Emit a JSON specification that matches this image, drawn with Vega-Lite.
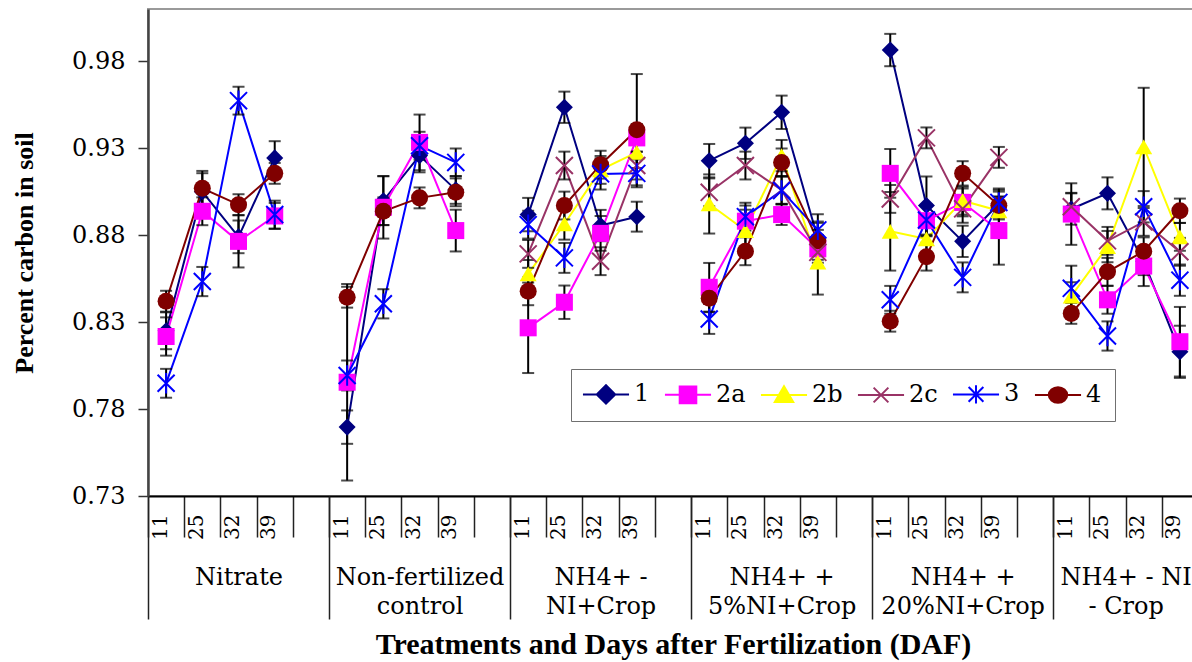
{
  "$schema": "https://vega.github.io/schema/vega-lite/v6.json",
  "width": 1050,
  "height": 487,
  "autosize": {"type": "none"},
  "padding": {"left": 148, "top": 9, "right": 0, "bottom": 166},
  "background": "white",
  "config": {
    "font": "Liberation Serif",
    "view": {"stroke": "#9a9a9a", "strokeWidth": 2},
    "axis": {"labelColor": "black", "titleColor": "black", "grid": false, "labelFont": "DejaVu Serif", "titleFont": "Liberation Serif"},
    "legend": {"labelFont": "DejaVu Serif"}
  },
  "datasets": {
    "pts": [
      {"x":"1-11","g":1,"s":"1","v":0.825,"e":0.0106},
      {"x":"1-11","g":1,"s":"2a","v":0.8217,"e":0.011},
      {"x":"1-11","g":1,"s":"3","v":0.7948,"e":0.0083},
      {"x":"1-11","g":1,"s":"4","v":0.842,"e":0.006},
      {"x":"1-25","g":1,"s":"1","v":0.905,"e":0.0106},
      {"x":"1-25","g":1,"s":"2a","v":0.8937,"e":0.008},
      {"x":"1-25","g":1,"s":"3","v":0.8533,"e":0.0084},
      {"x":"1-25","g":1,"s":"4","v":0.9069,"e":0.01},
      {"x":"1-32","g":1,"s":"1","v":0.879,"e":0.0094},
      {"x":"1-32","g":1,"s":"2a","v":0.8764,"e":0.015},
      {"x":"1-32","g":1,"s":"3","v":0.9573,"e":0.008},
      {"x":"1-32","g":1,"s":"4","v":0.8975,"e":0.006},
      {"x":"1-39","g":1,"s":"1","v":0.9244,"e":0.0096},
      {"x":"1-39","g":1,"s":"2a","v":0.891,"e":0.0075},
      {"x":"1-39","g":1,"s":"3","v":0.8918,"e":0.008},
      {"x":"1-39","g":1,"s":"4","v":0.9155,"e":0.006},

      {"x":"2-11","g":2,"s":"1","v":0.7696,"e":0.0096},
      {"x":"2-11","g":2,"s":"2a","v":0.7954,"e":0.0565},
      {"x":"2-11","g":2,"s":"3","v":0.7993,"e":0.0086},
      {"x":"2-11","g":2,"s":"4","v":0.8443,"e":0.006},
      {"x":"2-25","g":2,"s":"1","v":0.8998,"e":0.014},
      {"x":"2-25","g":2,"s":"2a","v":0.896,"e":0.018},
      {"x":"2-25","g":2,"s":"3","v":0.8405,"e":0.0084},
      {"x":"2-25","g":2,"s":"4","v":0.8937,"e":0.008},
      {"x":"2-32","g":2,"s":"1","v":0.9257,"e":0.0096},
      {"x":"2-32","g":2,"s":"2a","v":0.9333,"e":0.016},
      {"x":"2-32","g":2,"s":"3","v":0.9314,"e":0.008},
      {"x":"2-32","g":2,"s":"4","v":0.9014,"e":0.006},
      {"x":"2-39","g":2,"s":"1","v":0.906,"e":0.008},
      {"x":"2-39","g":2,"s":"2a","v":0.8826,"e":0.012},
      {"x":"2-39","g":2,"s":"3","v":0.9218,"e":0.008},
      {"x":"2-39","g":2,"s":"4","v":0.9046,"e":0.008},

      {"x":"3-11","g":3,"s":"1","v":0.8918,"e":0.0096},
      {"x":"3-11","g":3,"s":"2a","v":0.8267,"e":0.026},
      {"x":"3-11","g":3,"s":"2b","v":0.8577,"e":0.008},
      {"x":"3-11","g":3,"s":"2c","v":0.8692,"e":0.008},
      {"x":"3-11","g":3,"s":"3","v":0.886,"e":0.008},
      {"x":"3-11","g":3,"s":"4","v":0.8477,"e":0.008},
      {"x":"3-25","g":3,"s":"1","v":0.9535,"e":0.009},
      {"x":"3-25","g":3,"s":"2a","v":0.8414,"e":0.0096},
      {"x":"3-25","g":3,"s":"2b","v":0.8864,"e":0.009},
      {"x":"3-25","g":3,"s":"2c","v":0.92,"e":0.008},
      {"x":"3-25","g":3,"s":"3","v":0.8669,"e":0.0086},
      {"x":"3-25","g":3,"s":"4","v":0.897,"e":0.008},
      {"x":"3-32","g":3,"s":"1","v":0.8855,"e":0.009},
      {"x":"3-32","g":3,"s":"2a","v":0.881,"e":0.01},
      {"x":"3-32","g":3,"s":"2b","v":0.9175,"e":0.008},
      {"x":"3-32","g":3,"s":"2c","v":0.865,"e":0.008},
      {"x":"3-32","g":3,"s":"3","v":0.9152,"e":0.009},
      {"x":"3-32","g":3,"s":"4","v":0.9205,"e":0.008},
      {"x":"3-39","g":3,"s":"1","v":0.8906,"e":0.0086},
      {"x":"3-39","g":3,"s":"2a","v":0.9359,"e":0.008},
      {"x":"3-39","g":3,"s":"2b","v":0.9276,"e":0.009},
      {"x":"3-39","g":3,"s":"2c","v":0.92,"e":0.008},
      {"x":"3-39","g":3,"s":"3","v":0.9155,"e":0.008},
      {"x":"3-39","g":3,"s":"4","v":0.9406,"e":0.032},

      {"x":"4-11","g":4,"s":"1","v":0.9228,"e":0.0096},
      {"x":"4-11","g":4,"s":"2a","v":0.85,"e":0.014},
      {"x":"4-11","g":4,"s":"2b","v":0.8979,"e":0.017},
      {"x":"4-11","g":4,"s":"2c","v":0.9046,"e":0.008},
      {"x":"4-11","g":4,"s":"3","v":0.8318,"e":0.0086},
      {"x":"4-11","g":4,"s":"4","v":0.8437,"e":0.008},
      {"x":"4-25","g":4,"s":"1","v":0.9328,"e":0.009},
      {"x":"4-25","g":4,"s":"2a","v":0.888,"e":0.009},
      {"x":"4-25","g":4,"s":"2b","v":0.8826,"e":0.012},
      {"x":"4-25","g":4,"s":"2c","v":0.92,"e":0.008},
      {"x":"4-25","g":4,"s":"3","v":0.8906,"e":0.008},
      {"x":"4-25","g":4,"s":"4","v":0.8707,"e":0.008},
      {"x":"4-32","g":4,"s":"1","v":0.9506,"e":0.0096},
      {"x":"4-32","g":4,"s":"2a","v":0.8918,"e":0.006},
      {"x":"4-32","g":4,"s":"2b","v":0.9257,"e":0.009},
      {"x":"4-32","g":4,"s":"2c","v":0.906,"e":0.008},
      {"x":"4-32","g":4,"s":"3","v":0.9056,"e":0.008},
      {"x":"4-32","g":4,"s":"4","v":0.9218,"e":0.008},
      {"x":"4-39","g":4,"s":"1","v":0.878,"e":0.009},
      {"x":"4-39","g":4,"s":"2a","v":0.8721,"e":0.008},
      {"x":"4-39","g":4,"s":"2b","v":0.8644,"e":0.0186},
      {"x":"4-39","g":4,"s":"2c","v":0.8701,"e":0.008},
      {"x":"4-39","g":4,"s":"3","v":0.883,"e":0.009},
      {"x":"4-39","g":4,"s":"4","v":0.8768,"e":0.011},

      {"x":"5-11","g":5,"s":"1","v":0.9864,"e":0.0093},
      {"x":"5-11","g":5,"s":"2a","v":0.9155,"e":0.014},
      {"x":"5-11","g":5,"s":"2b","v":0.8822,"e":0.0226},
      {"x":"5-11","g":5,"s":"2c","v":0.9008,"e":0.008},
      {"x":"5-11","g":5,"s":"3","v":0.8428,"e":0.008},
      {"x":"5-11","g":5,"s":"4","v":0.8305,"e":0.006},
      {"x":"5-25","g":5,"s":"1","v":0.897,"e":0.0167},
      {"x":"5-25","g":5,"s":"2a","v":0.8883,"e":0.009},
      {"x":"5-25","g":5,"s":"2b","v":0.8778,"e":0.008},
      {"x":"5-25","g":5,"s":"2c","v":0.9359,"e":0.006},
      {"x":"5-25","g":5,"s":"3","v":0.8887,"e":0.009},
      {"x":"5-25","g":5,"s":"4","v":0.8676,"e":0.008},
      {"x":"5-32","g":5,"s":"1","v":0.8764,"e":0.009},
      {"x":"5-32","g":5,"s":"2a","v":0.8988,"e":0.008},
      {"x":"5-32","g":5,"s":"2b","v":0.8998,"e":0.008},
      {"x":"5-32","g":5,"s":"2c","v":0.8951,"e":0.008},
      {"x":"5-32","g":5,"s":"3","v":0.8557,"e":0.0086},
      {"x":"5-32","g":5,"s":"4","v":0.9155,"e":0.007},
      {"x":"5-39","g":5,"s":"1","v":0.898,"e":0.008},
      {"x":"5-39","g":5,"s":"2a","v":0.8826,"e":0.0196},
      {"x":"5-39","g":5,"s":"2b","v":0.894,"e":0.008},
      {"x":"5-39","g":5,"s":"2c","v":0.9247,"e":0.006},
      {"x":"5-39","g":5,"s":"3","v":0.8988,"e":0.008},
      {"x":"5-39","g":5,"s":"4","v":0.897,"e":0.008},

      {"x":"6-11","g":6,"s":"1","v":0.895,"e":0.009},
      {"x":"6-11","g":6,"s":"2a","v":0.8921,"e":0.0177},
      {"x":"6-11","g":6,"s":"2b","v":0.8449,"e":0.008},
      {"x":"6-11","g":6,"s":"2c","v":0.8963,"e":0.008},
      {"x":"6-11","g":6,"s":"3","v":0.8494,"e":0.013},
      {"x":"6-11","g":6,"s":"4","v":0.835,"e":0.006},
      {"x":"6-25","g":6,"s":"1","v":0.904,"e":0.0092},
      {"x":"6-25","g":6,"s":"2a","v":0.8428,"e":0.008},
      {"x":"6-25","g":6,"s":"2b","v":0.8734,"e":0.009},
      {"x":"6-25","g":6,"s":"2c","v":0.8767,"e":0.008},
      {"x":"6-25","g":6,"s":"3","v":0.822,"e":0.0084},
      {"x":"6-25","g":6,"s":"4","v":0.8589,"e":0.008},
      {"x":"6-32","g":6,"s":"1","v":0.865,"e":0.008},
      {"x":"6-32","g":6,"s":"2a","v":0.8622,"e":0.0115},
      {"x":"6-32","g":6,"s":"2b","v":0.9307,"e":0.034},
      {"x":"6-32","g":6,"s":"2c","v":0.8876,"e":0.008},
      {"x":"6-32","g":6,"s":"3","v":0.8963,"e":0.009},
      {"x":"6-32","g":6,"s":"4","v":0.8707,"e":0.008},
      {"x":"6-39","g":6,"s":"1","v":0.8129,"e":0.015},
      {"x":"6-39","g":6,"s":"2a","v":0.8187,"e":0.02},
      {"x":"6-39","g":6,"s":"2b","v":0.879,"e":0.008},
      {"x":"6-39","g":6,"s":"2c","v":0.8704,"e":0.008},
      {"x":"6-39","g":6,"s":"3","v":0.8541,"e":0.009},
      {"x":"6-39","g":6,"s":"4","v":0.894,"e":0.007}
    ],
    "groups": [
      {"grp":"Nitrate","pos":2.5},
      {"grp":"Non-fertilized control","pos":7.5},
      {"grp":"NH4+ - NI+Crop","pos":12.5},
      {"grp":"NH4+ + 5%NI+Crop","pos":17.5},
      {"grp":"NH4+ + 20%NI+Crop","pos":22.5},
      {"grp":"NH4+ - NI - Crop","pos":27}
    ],
    "series": [
      {"s":"1"},{"s":"2a"},{"s":"2b"},{"s":"2c"},{"s":"3"},{"s":"4"}
    ]
  },
  "resolve": {"scale": {"x": "independent", "shape": "independent", "fill": "independent", "stroke": "independent"}},
  "layer": [
    {
      "data": {"name": "pts"},
      "encoding": {
        "x": {
          "field": "x", "type": "ordinal",
          "scale": {
            "domain": ["1-11","1-25","1-32","1-39","1-","2-11","2-25","2-32","2-39","2-","3-11","3-25","3-32","3-39","3-","4-11","4-25","4-32","4-39","4-","5-11","5-25","5-32","5-39","5-","6-11","6-25","6-32","6-39"],
            "paddingInner": 0, "paddingOuter": 0
          },
          "axis": {
            "orient": "bottom", "title": null,
            "labelExpr": "split(datum.value, '-')[1]",
            "labelAngle": 270, "labelFontSize": 20,
            "labelPadding": -23, "labelOffset": -6,
            "labelOverlap": false, "labelBound": false, "labelFlush": false,
            "tickBand": "extent", "tickSize": 41, "tickColor": "#222222", "tickWidth": 1.5,
            "domainColor": "black", "domainWidth": 2
          }
        },
        "y": {
          "field": "v", "type": "quantitative",
          "scale": {"domain": [0.73, 1.01], "nice": false, "zero": false},
          "axis": {
            "orient": "left",
            "values": [0.73, 0.78, 0.83, 0.88, 0.93, 0.98],
            "format": ".2f",
            "labelFontSize": 24, "labelPadding": 13,
            "tickSize": 10, "tickColor": "#333333", "tickWidth": 1.5,
            "domainColor": "#444444", "domainWidth": 2.5,
            "title": "Percent carbon in soil",
            "titleFontSize": 26, "titleFontWeight": "bold",
            "titleX": -116, "titleBaseline": "alphabetic"
          }
        },
        "color": {
          "field": "s", "type": "nominal", "legend": null,
          "scale": {
            "domain": ["1","2a","2b","2c","3","4"],
            "range": ["#000080","#FF00FF","#FFFF00","#993366","#0000FF","#800000"]
          }
        }
      },
      "layer": [
        {
          "mark": {"type": "line", "strokeWidth": 2},
          "encoding": {"detail": {"field": "g", "type": "nominal"}}
        },
        {
          "mark": {"type": "errorbar", "ticks": true, "size": 12, "thickness": 2},
          "encoding": {"yError": {"field": "e"}, "color": {"value": "black"}}
        },
        {
          "transform": [{"filter": {"not": {"field": "s", "oneOf": ["2c", "3"]}}}],
          "mark": {"type": "point", "filled": true, "size": 290, "opacity": 1},
          "encoding": {
            "shape": {
              "field": "s", "type": "nominal", "legend": null,
              "scale": {
                "domain": ["1","2a","2b","2c","3","4"],
                "range": ["diamond","square","triangle-up","M-1,-1L1,1M-1,1L1,-1","M-1,-1L1,1M-1,1L1,-1M0,-1.2L0,1.2","circle"]
              }
            }
          }
        },
        {
          "transform": [{"filter": {"field": "s", "oneOf": ["2c", "3"]}}],
          "mark": {"type": "point", "filled": false, "size": 290, "strokeWidth": 2, "opacity": 1},
          "encoding": {
            "shape": {
              "field": "s", "type": "nominal", "legend": null,
              "scale": {
                "domain": ["1","2a","2b","2c","3","4"],
                "range": ["diamond","square","triangle-up","M-1,-1L1,1M-1,1L1,-1","M-1,-1L1,1M-1,1L1,-1M0,-1.2L0,1.2","circle"]
              }
            }
          }
        }
      ]
    },
    {
      "data": {"name": "groups"},
      "mark": {"type": "rule", "opacity": 0},
      "encoding": {
        "x": {
          "field": "pos", "type": "quantitative",
          "scale": {"domain": [0, 29], "nice": false, "zero": false},
          "axis": {
            "orient": "bottom",
            "values": [0, 2.5, 5, 7.5, 10, 12.5, 15, 17.5, 20, 22.5, 25, 27, 29],
            "labelExpr": "datum.value === 2.5 ? 'Nitrate' : datum.value === 7.5 ? ['Non-fertilized', 'control'] : datum.value === 12.5 ? ['NH4+ -', 'NI+Crop'] : datum.value === 17.5 ? ['NH4+ +', '5%NI+Crop'] : datum.value === 22.5 ? ['NH4+ +', '20%NI+Crop'] : datum.value === 27 ? ['NH4+ - NI', '- Crop'] : ''",
            "labelAngle": 0, "labelAlign": "center", "labelBaseline": "top",
            "labelFontSize": 24, "labelLineHeight": 29, "labelPadding": -54,
            "labelOverlap": false, "labelBound": false, "labelFlush": false,
            "tickSize": 123, "tickWidth": 1.5, "tickColor": "#222222",
            "tickOpacity": {"condition": {"test": "datum.value % 5 === 0 || datum.value === 29", "value": 1}, "value": 0},
            "domain": false, "grid": false,
            "title": "Treatments and Days after Fertilization (DAF)",
            "titleFontSize": 30, "titleFontWeight": "bold",
            "titleY": 157, "titleBaseline": "alphabetic"
          }
        }
      }
    },
    {
      "data": {"name": "series"},
      "mark": {"type": "point", "opacity": 0, "size": 340, "strokeWidth": 2},
      "encoding": {
        "shape": {
          "field": "s", "type": "nominal",
          "scale": {
            "domain": ["1","2a","2b","2c","3","4"],
            "range": [
              "M-2.5,0L2.5,0M-1,0L0,-1L1,0L0,1Z",
              "M-2.5,0L2.5,0M-0.9,-0.9L0.9,-0.9L0.9,0.9L-0.9,0.9Z",
              "M-2.5,0L2.5,0M0,-0.95L1,0.75L-1,0.75Z",
              "M-2.5,0L2.5,0M-0.8,-0.8L0.8,0.8M-0.8,0.8L0.8,-0.8",
              "M-2.5,0L2.5,0M-0.8,-0.8L0.8,0.8M-0.8,0.8L0.8,-0.8M0,-1L0,1",
              "M-2.5,0L2.5,0M-1,0A1,0.85,0,1,1,1,0A1,0.85,0,1,1,-1,0Z"
            ]
          },
          "legend": {
            "orient": "none", "legendX": 423, "legendY": 360,
            "direction": "horizontal", "columns": 6, "title": null,
            "strokeColor": "#707070", "padding": 13,
            "labelFontSize": 24, "labelColor": "black", "labelFont": "DejaVu Serif",
            "symbolSize": 340, "symbolStrokeWidth": 2, "symbolOpacity": 1,
            "symbolOffset": 10, "labelOffset": 16, "columnPadding": 10
          }
        },
        "fill": {
          "field": "s", "type": "nominal",
          "scale": {
            "domain": ["1","2a","2b","2c","3","4"],
            "range": ["#000080","#FF00FF","#FFFF00","transparent","transparent","#800000"]
          },
          "legend": {
            "orient": "none", "legendX": 423, "legendY": 360,
            "direction": "horizontal", "columns": 6, "title": null,
            "strokeColor": "#707070", "padding": 13,
            "labelFontSize": 24, "labelColor": "black", "labelFont": "DejaVu Serif",
            "symbolSize": 340, "symbolStrokeWidth": 2, "symbolOpacity": 1,
            "symbolOffset": 10, "labelOffset": 16, "columnPadding": 10
          }
        },
        "stroke": {
          "field": "s", "type": "nominal",
          "scale": {
            "domain": ["1","2a","2b","2c","3","4"],
            "range": ["#000080","#FF00FF","#FFFF00","#993366","#0000FF","#800000"]
          },
          "legend": {
            "orient": "none", "legendX": 423, "legendY": 360,
            "direction": "horizontal", "columns": 6, "title": null,
            "strokeColor": "#707070", "padding": 13,
            "labelFontSize": 24, "labelColor": "black", "labelFont": "DejaVu Serif",
            "symbolSize": 340, "symbolStrokeWidth": 2, "symbolOpacity": 1,
            "symbolOffset": 10, "labelOffset": 16, "columnPadding": 10
          }
        }
      }
    }
  ]
}
